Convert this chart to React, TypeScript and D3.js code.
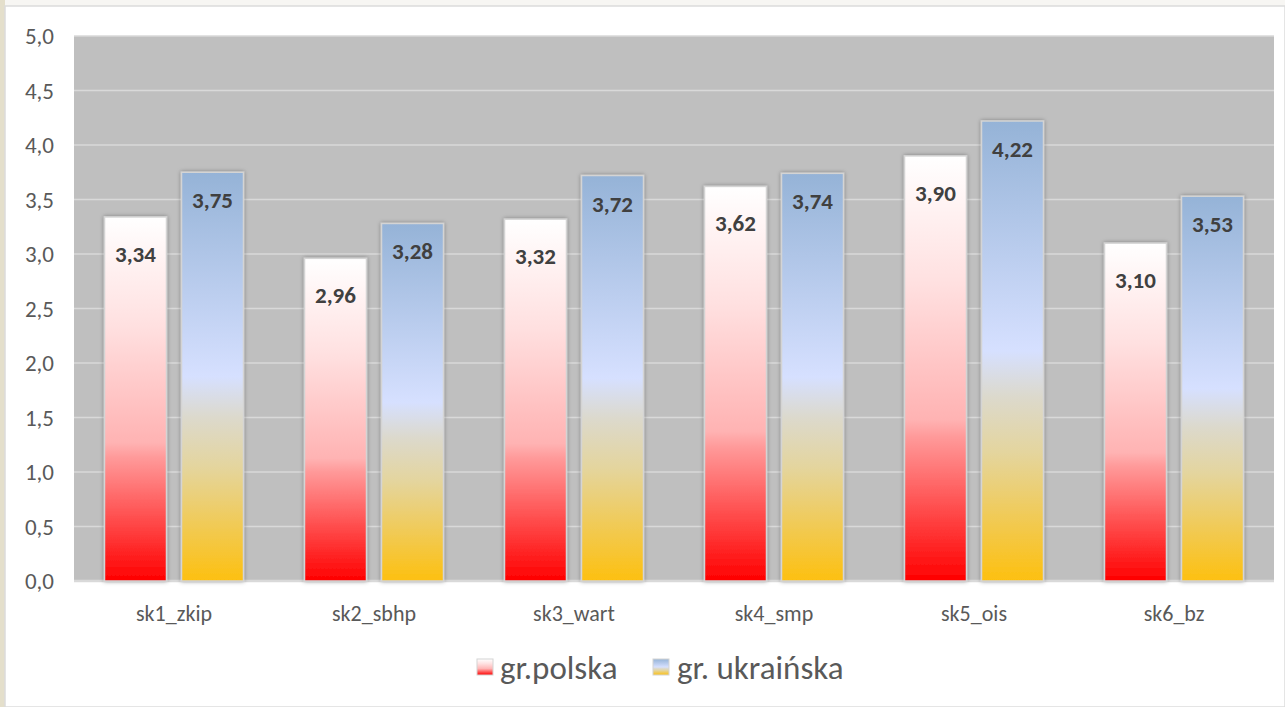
import React from "react";
import * as d3 from "d3";

const categories = ["sk1_zkip", "sk2_sbhp", "sk3_wart", "sk4_smp", "sk5_ois", "sk6_bz"];
const seriesNames = ["gr.polska", "gr. ukraińska"];
const polska = [3.34, 2.96, 3.32, 3.62, 3.9, 3.1];
const ukrainska = [3.75, 3.28, 3.72, 3.74, 4.22, 3.53];
const yTicks = [0, 0.5, 1, 1.5, 2, 2.5, 3, 3.5, 4, 4.5, 5];

const W = 1285;
const H = 707;
const plot = { left: 74, right: 1274, top: 36, bottom: 581 };
const font = "Carlito, 'Open Sans', 'Noto Sans', sans-serif";

export default function App() {
  const x0 = d3.scaleBand<string>().domain(categories).range([plot.left, plot.right]);
  const x1 = d3
    .scaleBand<string>()
    .domain(seriesNames)
    .range([30.5, x0.bandwidth() - 30.5])
    .paddingInner(0.195);
  const y = d3.scaleLinear().domain([0, 5]).range([plot.bottom, plot.top]);
  const fmt = (v: number) => v.toFixed(1).replace(".", ",");
  const fmt2 = (v: number) => v.toFixed(2).replace(".", ",");
  const seriesData = [polska, ukrainska];
  const grads = ["gPol", "gUkr"];
  const labelOffset = [37, 28];

  return (
    <svg
      width={W}
      height={H}
      style={{ position: "absolute", left: 0, top: 0, display: "block" }}
      fontFamily={font}
    >
      <defs>
        <linearGradient id="gPol" x1="0" y1="0" x2="0" y2="1">
          <stop offset="0" stopColor="#ffffff" />
          <stop offset="0.3" stopColor="#ffe0e0" />
          <stop offset="0.62" stopColor="#ffb3b3" />
          <stop offset="0.66" stopColor="#ff9a9a" />
          <stop offset="1" stopColor="#ff0000" />
        </linearGradient>
        <linearGradient id="gUkr" x1="0" y1="0" x2="0" y2="1">
          <stop offset="0" stopColor="#95b3d7" />
          <stop offset="0.5" stopColor="#d6e0ff" />
          <stop offset="0.6" stopColor="#dcd9cc" />
          <stop offset="0.72" stopColor="#e4d59e" />
          <stop offset="1" stopColor="#fdc010" />
        </linearGradient>
        <filter id="shadow" x="-20%" y="-10%" width="140%" height="120%">
          <feDropShadow dx="0" dy="0" stdDeviation="2.2" floodColor="#000" floodOpacity="0.35" />
        </filter>
      </defs>
      {/* page frame */}
      <rect x={0} y={0} width={W} height={H} fill="#f7f6f3" />
      <rect x={0} y={0} width={5} height={H} fill="#e4dfcb" />
      <rect x={5} y={6} width={W - 5} height={H - 6} fill="#ffffff" stroke="#dcdcdc" strokeWidth={1.5} />
      {/* plot area */}
      <rect
        x={plot.left}
        y={plot.top}
        width={plot.right - plot.left}
        height={plot.bottom - plot.top}
        fill="#bfbfbf"
      />
      {yTicks.map((t) => (
        <line
          key={t}
          x1={plot.left}
          x2={plot.right}
          y1={y(t)}
          y2={y(t)}
          stroke="#d9d9d9"
          strokeWidth={t === 0 ? 2.5 : 1.5}
        />
      ))}
      {yTicks.map((t) => (
        <text
          key={"l" + t}
          x={54}
          y={y(t)}
          textAnchor="end"
          dominantBaseline="central"
          fontSize={23}
          fill="#595959"
        >
          {fmt(t)}
        </text>
      ))}
      {categories.map((c, i) => (
        <g key={c} transform={`translate(${x0(c)},0)`}>
          {seriesNames.map((s, si) => {
            const v = seriesData[si][i];
            const bx = x1(s)!;
            const bw = x1.bandwidth();
            return (
              <g key={s}>
                <rect
                  x={bx}
                  y={y(v)}
                  width={bw}
                  height={y(0) - y(v)}
                  fill={`url(#${grads[si]})`}
                  stroke="#d4d4d4"
                  strokeWidth={1.5}
                  filter="url(#shadow)"
                />
                <text
                  x={bx + bw / 2}
                  y={y(v) + labelOffset[si]}
                  textAnchor="middle"
                  dominantBaseline="central"
                  fontSize={23}
                  fontWeight="bold"
                  fill="#404040"
                >
                  {fmt2(v)}
                </text>
              </g>
            );
          })}
          <text
            x={x0.bandwidth() / 2}
            y={613}
            textAnchor="middle"
            dominantBaseline="central"
            fontSize={22}
            fill="#595959"
          >
            {c}
          </text>
        </g>
      ))}
      {/* legend */}
      <g>
        <rect x={477} y={659} width={16} height={16} fill="url(#gPol)" stroke="#d4d4d4" />
        <text x={500} y={668} dominantBaseline="central" fontSize={33} fill="#595959">
          {seriesNames[0]}
        </text>
        <rect x={653} y={659} width={16} height={16} fill="url(#gUkr)" stroke="#d4d4d4" />
        <text x={677} y={668} dominantBaseline="central" fontSize={33} fill="#595959">
          {seriesNames[1]}
        </text>
      </g>
    </svg>
  );
}
